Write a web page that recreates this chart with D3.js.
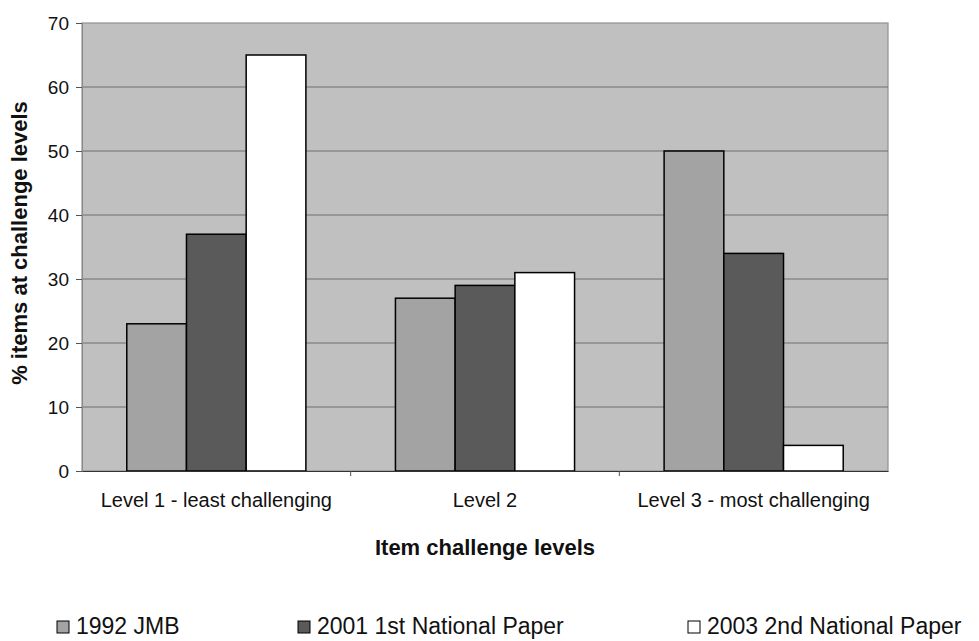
<!DOCTYPE html>
<html>
<head>
<meta charset="utf-8">
<script src="https://cdn.jsdelivr.net/npm/d3@7"></script>
<style>
  html, body { margin: 0; padding: 0; background: #fff; }
  svg { display: block; font-family: "Liberation Sans", Arial, sans-serif; }
</style>
</head>
<body>
<svg id="chart" width="979" height="641"></svg>
<script>
// Item challenge levels per paper
const categories = ["Level 1 - least challenging", "Level 2", "Level 3 - most challenging"];
const seriesNames = ["1992 JMB", "2001 1st National Paper", "2003 2nd National Paper"];
const jmb1992 = [23, 27, 50];
const national2001 = [37, 29, 34];
const national2003 = [65, 31, 4];
const yTicks = [0, 10, 20, 30, 40, 50, 60, 70];

const seriesValues = [jmb1992, national2001, national2003];
const seriesFill = ["#a3a3a3", "#5a5a5a", "#ffffff"];

const svg = d3.select("#chart");
const plot = { left: 82, top: 23, right: 888, bottom: 471 };

const x = d3.scaleBand().domain(categories).range([plot.left, plot.right]).paddingInner(0).paddingOuter(0);
const y = d3.scaleLinear().domain([0, 70]).range([plot.bottom, plot.top]);

// Bars take 3/(3+1.5) of each category band (150% gap)
const groupInner = x.bandwidth() * 3 / 4.5;
const xs = d3.scaleBand().domain(d3.range(seriesNames.length))
  .range([(x.bandwidth() - groupInner) / 2, (x.bandwidth() + groupInner) / 2]);

// Plot area background
svg.append("rect")
  .attr("x", plot.left).attr("y", plot.top)
  .attr("width", plot.right - plot.left).attr("height", plot.bottom - plot.top)
  .attr("fill", "#c0c0c0").attr("stroke", "#929292").attr("stroke-width", 1.2);

// Horizontal gridlines
svg.append("g").selectAll("line")
  .data(yTicks.filter(d => d > 0 && d < 70))
  .join("line")
  .attr("x1", plot.left).attr("x2", plot.right)
  .attr("y1", d => y(d)).attr("y2", d => y(d))
  .attr("stroke", "#6e6e6e").attr("stroke-width", 1);

// Bars
const groups = svg.append("g").selectAll("g")
  .data(categories)
  .join("g")
  .attr("transform", d => `translate(${x(d)},0)`);

groups.selectAll("rect")
  .data((c, ci) => seriesValues.map((vals, si) => ({ si, v: vals[ci] })))
  .join("rect")
  .attr("x", d => xs(d.si))
  .attr("width", xs.bandwidth())
  .attr("y", d => y(d.v))
  .attr("height", d => y(0) - y(d.v))
  .attr("fill", d => seriesFill[d.si])
  .attr("stroke", "#000").attr("stroke-width", 1.5);

// Y axis
const yAxis = svg.append("g")
  .attr("transform", `translate(${plot.left},0)`)
  .call(d3.axisLeft(y).tickValues(yTicks).tickSize(6).tickPadding(7).tickFormat(d3.format("d")));
yAxis.select(".domain").attr("stroke", "#8a8a8a");
yAxis.selectAll(".tick line").attr("stroke", "#555");
yAxis.selectAll("text").attr("font-size", 19).attr("fill", "#111").attr("dy", "0.35em");

// X axis
const xAxis = svg.append("g")
  .attr("transform", `translate(0,${plot.bottom})`)
  .call(d3.axisBottom(x).tickSize(0).tickPadding(22));
xAxis.select(".domain").attr("stroke", "#333");
xAxis.selectAll("text").attr("font-size", 20).attr("fill", "#111");
// Category separators
svg.append("g").selectAll("line")
  .data(categories.slice(1))
  .join("line")
  .attr("x1", d => x(d)).attr("x2", d => x(d))
  .attr("y1", plot.bottom).attr("y2", plot.bottom + 5)
  .attr("stroke", "#555");

// Axis titles
svg.append("text")
  .attr("transform", `translate(27,243) rotate(-90)`)
  .attr("text-anchor", "middle")
  .attr("font-size", 22).attr("font-weight", "bold").attr("fill", "#111")
  .text("% items at challenge levels");

svg.append("text")
  .attr("x", (plot.left + plot.right) / 2).attr("y", 555)
  .attr("text-anchor", "middle")
  .attr("font-size", 22).attr("font-weight", "bold").attr("fill", "#111")
  .text("Item challenge levels");

// Legend
const legendX = [57, 298, 688];
const legend = svg.append("g").selectAll("g")
  .data(seriesNames)
  .join("g")
  .attr("transform", (d, i) => `translate(${legendX[i]},634)`);
legend.append("rect")
  .attr("x", 0).attr("y", -13).attr("width", 12).attr("height", 12)
  .attr("fill", (d, i) => seriesFill[i]).attr("stroke", "#000").attr("stroke-width", 1);
legend.append("text")
  .attr("x", 19).attr("y", 0)
  .attr("font-size", 23).attr("fill", "#111")
  .text(d => d);
</script>
</body>
</html>
